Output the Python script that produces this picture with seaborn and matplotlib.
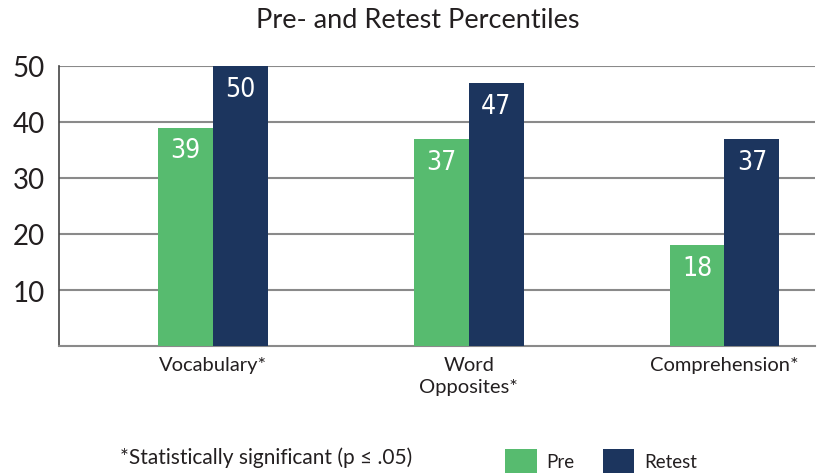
import matplotlib
matplotlib.use("Agg")
import matplotlib.pyplot as plt
from matplotlib.patches import Patch
import seaborn as sns
import pandas as pd

# data
categories = ["Vocabulary*", "Word\nOpposites*", "Comprehension*"]
pre_values = [39, 37, 18]
retest_values = [50, 47, 37]
series_names = ["Pre", "Retest"]
y_ticks = [10, 20, 30, 40, 50]

colors = {"Pre": "#57BB6F", "Retest": "#1C355E"}

df = pd.DataFrame({
    "category": categories * 2,
    "value": pre_values + retest_values,
    "series": [series_names[0]] * 3 + [series_names[1]] * 3,
})

sns.set_style("white")
plt.rcParams['font.family'] = ['Lato', 'DejaVu Sans']

fig = plt.figure(figsize=(8.17, 4.77), dpi=100)
ax = fig.add_axes([59 / 817, 1 - 347 / 477, (815 - 59) / 817, (347 - 67) / 477])

sns.barplot(data=df, x="category", y="value", hue="series", palette=colors,
            width=0.43, gap=0, saturation=1, linewidth=0, ax=ax, legend=False, zorder=3)

ax.set_ylim(0, 50)
ax.set_xlim(-0.603, 2.354)
ax.set_yticks(y_ticks)
ax.set_yticklabels([str(t) for t in y_ticks], fontsize=20, color="#231F20")
ax.tick_params(axis="y", length=0, pad=10)
ax.tick_params(axis="x", length=0, pad=7, labelsize=14.5, labelcolor="#231F20")
for lbl in ax.get_xticklabels():
    lbl.set_verticalalignment("top")
    lbl.set_linespacing(1.4)
ax.set_xlabel("")
ax.set_ylabel("")
for t in y_ticks:
    ax.axhline(t, color="#8A8A8A", lw=1.5, zorder=1)

for s in ["top", "right"]:
    ax.spines[s].set_visible(False)
ax.spines["left"].set_color("#444444")
ax.spines["left"].set_linewidth(1.2)
ax.spines["bottom"].set_color("#8A8A8A")
ax.spines["bottom"].set_linewidth(1.5)

for container in ax.containers:
    for bar in container:
        h = bar.get_height()
        ax.annotate(f"{h:.0f}", (bar.get_x() + bar.get_width() / 2, h),
                    xytext=(0, -7), textcoords="offset points",
                    ha="center", va="top", color="white", fontsize=19,
                    family="DejaVu Sans", fontstretch="condensed", zorder=4)

fig.text(418 / 817, 1 - 20 / 477, "Pre- and Retest Percentiles",
         ha="center", va="center", fontsize=19.5, color="#231F20")
fig.text(120 / 817, 1 - 458 / 477, "*Statistically significant (p \u2264 .05)",
         ha="left", va="center", fontsize=15, color="#231F20")

handles = [Patch(facecolor=colors[n], edgecolor="none") for n in series_names]
fig.legend(handles, series_names, loc="center left",
           bbox_to_anchor=(505 / 817, 1 - 462 / 477), ncol=2, frameon=False,
           borderpad=0, borderaxespad=0,
           fontsize=13.5, handlelength=1.7, handleheight=1.6, columnspacing=1.5,
           handletextpad=0.5, labelcolor="#231F20")

fig.savefig("out.png", dpi=100)
